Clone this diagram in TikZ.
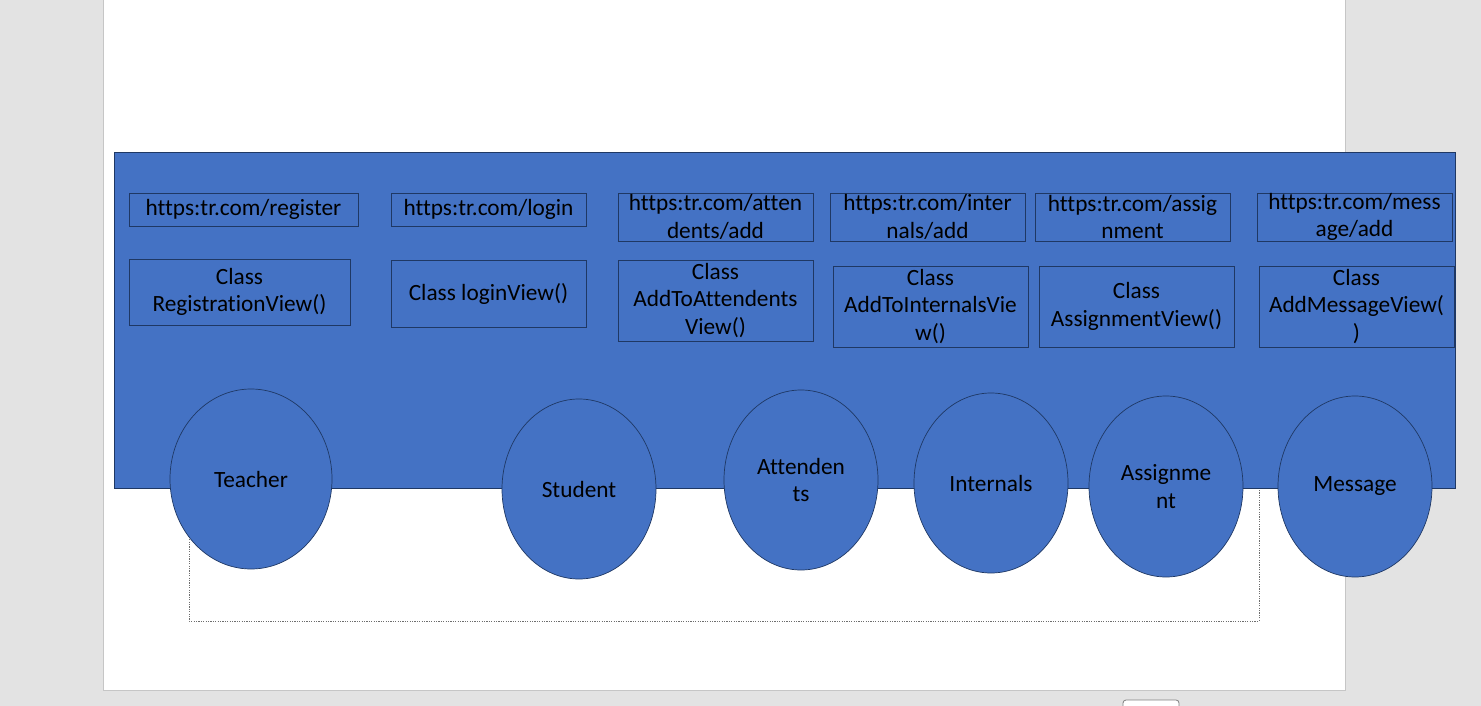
\documentclass[tikz,border=0pt]{standalone}
\usepackage{fontspec}
\setmainfont{Carlito}[Ligatures=NoCommon]
\usetikzlibrary{shapes.geometric}
\definecolor{bgray}{HTML}{E3E3E3}
\definecolor{pborder}{HTML}{C6C6C6}
\definecolor{fillblue}{HTML}{4472C4}
\definecolor{navy}{HTML}{1F3864}
\definecolor{dotgray}{HTML}{6E6E6E}
\tikzset{
  txt/.style={font=\fontsize{23.3}{27.6}\selectfont, text=black, align=center},
  urlbox/.style={txt, draw=navy, line width=0.7pt, inner sep=0pt, rectangle},
  actor/.style={txt, ellipse, draw=navy, line width=0.7pt, fill=fillblue, inner sep=0pt},
}
\begin{document}
\begin{tikzpicture}[x=1pt, y=-1pt]
\useasboundingbox (0,0) rectangle (1481,706);
% background and page
\fill[bgray] (0,0) rectangle (1481,706);
\draw[pborder, fill=white, line width=1pt] (103,-5) rectangle (1345,690);
% dotted frame behind
\draw[dotgray, line width=0.8pt, dash pattern=on 1.2pt off 1.2pt] (189,400) rectangle (1259,621);
% main blue panel
\node[draw=navy, line width=0.9pt, fill=fillblue, minimum width=1341pt, minimum height=336pt, inner sep=0pt] (panel) at (784.5,320) {};
% url boxes
\node[urlbox, minimum width=229pt, minimum height=33pt] (u1) at (243.5,209.5) {https:tr.com/register};
\node[urlbox, minimum width=195pt, minimum height=33pt] (u2) at (488.5,209.5) {https:tr.com/login};
\node[urlbox, minimum width=195pt, minimum height=48pt] (u3) at (715.5,217) {https:tr.com/atten\\dents/add};
\node[urlbox, minimum width=195pt, minimum height=48pt] (u4) at (927.5,217) {https:tr.com/inter\\nals/add};
\node[urlbox, minimum width=195pt, minimum height=48pt] (u5) at (1132.5,217) {https:tr.com/assig\\nment};
\node[urlbox, minimum width=195pt, minimum height=48pt] (u6) at (1354.5,217) {https:tr.com/mess\\age/add};
% class boxes
\node[urlbox, minimum width=221pt, minimum height=66pt] (c1) at (239.5,292) {Class\\RegistrationView()};
\node[urlbox, minimum width=195pt, minimum height=67pt] (c2) at (488.5,293.5) {Class loginView()};
\node[urlbox, minimum width=195pt, minimum height=81pt] (c3) at (715.5,300.5) {Class\\AddToAttendents\\View()};
\node[urlbox, minimum width=195pt, minimum height=81pt] (c4) at (930.5,306.5) {Class\\AddToInternalsVie\\w()};
\node[urlbox, minimum width=195pt, minimum height=81pt] (c5) at (1136.5,306.5) {Class\\AssignmentView()};
\node[urlbox, minimum width=195pt, minimum height=81pt] (c6) at (1356.5,306.5) {Class\\AddMessageView(\\)};
% actors
\node[actor, minimum width=162pt, minimum height=180pt] (teacher) at (251,479) {Teacher};
\node[actor, minimum width=154pt, minimum height=180pt] (student) at (579,489) {Student};
\node[actor, minimum width=154pt, minimum height=180pt] (attend) at (801,480) {Attenden\\ts};
\node[actor, minimum width=154pt, minimum height=180pt] (intern) at (991,483) {Internals};
\node[actor, minimum width=154pt, minimum height=181pt] (assign) at (1166,486.5) {Assignme\\nt};
\node[actor, minimum width=154pt, minimum height=181pt] (msg) at (1355,486.5) {Message};
% small tab at bottom
\draw[gray, fill=white, line width=0.8pt, rounded corners=3pt] (1123,712) -- (1123,700) -- (1179,700) -- (1179,712);
\end{tikzpicture}
\end{document}
